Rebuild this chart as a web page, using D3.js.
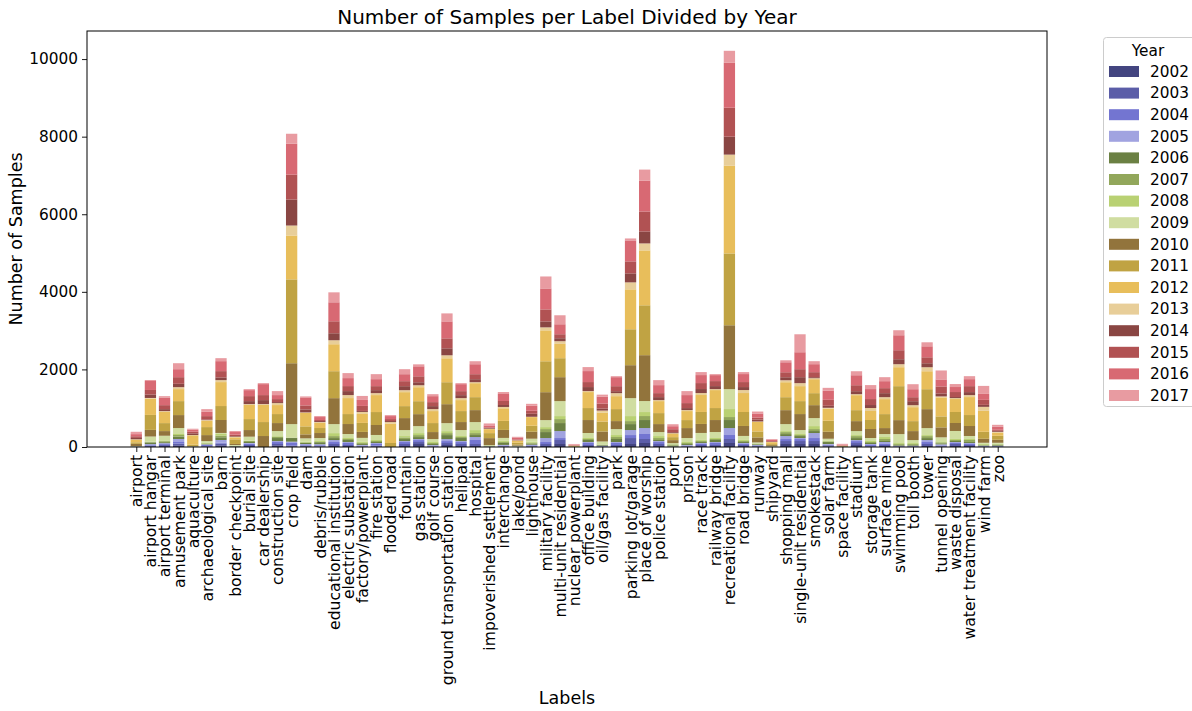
<!DOCTYPE html>
<html>
<head>
<meta charset="utf-8">
<script src="https://cdn.jsdelivr.net/npm/d3@7"></script>
<style>
  html, body { margin: 0; padding: 0; background: #fff; }
  svg { display: block; font-family: "DejaVu Sans", sans-serif; }
</style>
</head>
<body>
<svg id="chart" width="1192" height="711"></svg>
<script>
// Label categories (x axis)
const labels = ["airport","airport hangar","airport terminal","amusement park","aquaculture","archaeological site","barn","border checkpoint","burial site","car dealership","construction site","crop field","dam","debris/rubble","educational institution","electric substation","factory/powerplant","fire station","flooded road","fountain","gas station","golf course","ground transportation station","helipad","hospital","impoverished settlement","interchange","lake/pond","lighthouse","military facility","multi-unit residential","nuclear powerplant","office building","oil/gas facility","park","parking lot/garage","place of worship","police station","port","prison","race track","railway bridge","recreational facility","road bridge","runway","shipyard","shopping mall","single-unit residential","smokestack","solar farm","space facility","stadium","storage tank","surface mine","swimming pool","toll booth","tower","tunnel opening","waste disposal","water treatment facility","wind farm","zoo"];

// Years (stack order, bottom to top)
const years = ["2002","2003","2004","2005","2006","2007","2008","2009","2010","2011","2012","2013","2014","2015","2016","2017"];

// Samples per label, one array per year (same order as labels)
const y2002 = [3,20,25,43,2,8,43,3,26,0,43,17,17,10,26,26,10,17,0,26,77,8,51,26,26,3,10,2,8,26,77,0,26,8,26,77,103,26,3,8,26,26,103,26,8,2,77,77,77,17,0,51,8,26,8,8,26,8,26,26,8,8];
const y2003 = [3,15,25,43,2,17,43,3,26,0,34,17,17,10,51,26,10,17,0,51,51,8,51,51,51,3,10,2,17,51,103,0,26,8,26,154,103,51,3,8,26,26,103,26,17,2,77,77,77,26,0,51,17,26,8,8,51,17,51,26,8,8];
const y2004 = [3,15,25,43,2,26,26,3,34,0,51,69,17,26,51,51,17,43,0,51,51,17,51,51,103,3,17,2,17,51,51,0,51,8,51,77,129,51,3,17,26,51,103,26,17,2,51,51,77,17,0,51,26,26,8,8,51,17,26,26,8,8];
const y2005 = [3,25,25,77,2,17,69,3,17,0,26,34,26,26,51,26,17,26,0,26,26,17,51,26,77,3,17,2,17,103,180,0,26,8,26,129,154,26,3,17,26,26,180,26,8,2,77,26,129,17,0,26,26,51,8,8,51,26,26,26,8,8];
const y2006 = [5,40,25,60,2,8,69,17,26,0,77,94,26,51,51,51,26,26,0,51,51,26,103,77,51,5,51,3,26,154,206,0,51,17,77,154,206,26,26,26,26,51,206,26,17,2,51,51,51,51,0,51,26,26,17,17,51,26,26,26,8,17];
const y2007 = [2,15,25,43,2,17,43,3,26,0,34,8,17,5,51,26,26,26,0,43,51,26,51,26,51,3,26,3,26,77,103,0,26,8,51,77,103,51,26,26,26,26,77,26,17,2,51,26,51,17,0,51,26,51,26,26,51,26,26,51,17,17];
const y2008 = [2,10,20,26,2,17,43,3,8,0,17,8,17,26,77,26,26,26,0,34,51,26,51,26,77,3,26,3,26,51,77,0,26,8,51,129,103,51,10,26,26,26,206,26,8,2,26,26,77,17,0,26,26,51,26,26,26,26,26,26,26,17];
const y2009 = [5,130,120,154,2,43,26,17,103,0,129,343,86,77,232,103,103,129,0,154,180,77,206,154,206,26,77,17,77,180,386,0,129,77,154,463,283,103,26,103,180,154,514,103,26,8,180,103,206,51,0,103,77,77,232,77,180,103,206,77,26,26];
const y2010 = [55,171,120,334,10,154,334,26,171,283,206,1569,103,129,669,257,154,257,0,309,309,180,489,206,309,180,206,26,180,720,617,0,334,257,206,849,1183,206,77,257,232,309,1646,257,129,26,360,412,334,180,17,257,232,154,360,232,489,257,206,257,103,77];
const y2011 = [40,386,206,360,34,206,360,120,283,360,232,2161,206,129,695,257,232,334,103,309,334,232,566,283,334,129,232,51,154,797,489,17,309,257,309,926,1286,283,77,206,309,309,1852,360,154,26,334,334,309,283,0,283,232,360,875,257,514,283,283,283,180,103];
const y2012 = [70,420,292,309,240,163,617,51,369,446,232,1132,352,137,695,412,232,437,497,360,360,309,617,283,360,103,326,51,223,797,369,17,412,232,334,1029,1415,309,94,232,437,463,2264,489,249,51,386,386,360,309,17,386,232,386,489,360,463,489,334,463,540,77];
const y2013 = [8,17,17,51,8,17,51,17,17,17,51,257,8,17,103,77,51,51,43,51,51,51,77,51,26,10,34,8,8,77,69,0,26,51,77,180,180,26,8,26,51,26,283,77,8,5,51,77,26,26,0,26,77,51,77,51,103,26,26,51,103,26];
const y2014 = [35,86,51,86,43,17,69,17,77,103,26,669,77,26,180,103,26,77,26,103,77,77,180,77,77,17,51,8,77,154,77,5,103,51,51,232,309,77,26,51,103,77,463,77,51,8,77,154,26,51,0,77,77,103,129,103,103,77,26,77,51,26];
const y2015 = [43,120,103,171,43,86,163,34,129,129,77,643,103,26,309,129,129,103,51,129,154,103,257,103,129,17,103,17,77,309,103,5,129,129,129,309,514,103,77,129,154,129,746,129,51,17,129,206,129,154,5,154,154,129,232,103,154,180,129,154,129,26];
const y2016 = [55,231,189,206,51,111,257,69,154,283,103,797,206,77,489,206,154,180,77,180,257,154,437,180,257,51,180,51,129,540,257,17,283,180,232,540,797,206,77,206,206,154,1158,206,103,34,257,437,206,232,26,257,257,180,386,206,283,180,129,180,154,77];
const y2017 = [60,26,43,154,26,69,77,26,26,26,103,257,26,26,257,129,103,129,26,129,51,51,206,26,77,51,51,17,51,309,232,17,103,51,26,51,283,129,51,103,77,26,309,51,51,17,51,463,77,77,17,103,103,103,129,129,103,232,77,77,206,51];

const yearSeries = [y2002,y2003,y2004,y2005,y2006,y2007,y2008,y2009,y2010,y2011,y2012,y2013,y2014,y2015,y2016,y2017];

// tab20b palette, one colour per year
const palette = ["#393b79","#5254a3","#6b6ecf","#9c9ede","#637939","#8ca252","#b5cf6b","#cedb9c","#8c6d31","#bd9e39","#e7ba52","#e7cb94","#843c39","#ad494a","#d6616b","#e7969c"];

const yTicks = [0, 2000, 4000, 6000, 8000, 10000];

// Build a table: one row per label, one column per year
const rows = labels.map((lab, i) => {
  const r = { label: lab, idx: i };
  years.forEach((yr, k) => { r[yr] = yearSeries[k][i]; });
  return r;
});

const svg = d3.select("#chart");
const margin = { left: 87, right: 1047, top: 31, bottom: 447 };

const stack = d3.stack().keys(years);
const layers = stack(rows);
const maxTotal = d3.max(rows, r => d3.sum(years, y => r[y]));

const barW = 0.8;
const pad = 0.05 * (labels.length - 1 + barW);
const x = d3.scaleLinear()
  .domain([-barW / 2 - pad, labels.length - 1 + barW / 2 + pad])
  .range([margin.left, margin.right]);
const y = d3.scaleLinear()
  .domain([0, maxTotal * 1.05])
  .range([margin.bottom, margin.top]);
const color = d3.scaleOrdinal().domain(years).range(palette);
const barOpacity = 0.95;

// Stacked bars
const g = svg.append("g");
g.selectAll("g.layer")
  .data(layers)
  .join("g")
  .attr("class", "layer")
  .attr("fill", d => color(d.key))
  .attr("fill-opacity", barOpacity)
  .selectAll("rect")
  .data(d => d)
  .join("rect")
  .attr("x", d => x(d.data.idx - barW / 2))
  .attr("width", d => x(barW) - x(0))
  .attr("y", d => y(d[1]))
  .attr("height", d => y(d[0]) - y(d[1]));

// Axes
const xAxis = d3.axisBottom(x)
  .tickValues(d3.range(labels.length))
  .tickFormat(i => labels[i])
  .tickSize(5)
  .tickPadding(3);
const xg = svg.append("g")
  .attr("transform", `translate(0,${margin.bottom})`)
  .call(xAxis);
xg.select(".domain").remove();
xg.selectAll(".tick line").attr("stroke", "#000").attr("stroke-width", 0.9);
xg.selectAll(".tick text")
  .attr("font-family", "DejaVu Sans, sans-serif")
  .attr("font-size", 15.6)
  .attr("fill", "#000")
  .attr("text-anchor", "end")
  .attr("transform", "rotate(-90)")
  .attr("x", -8)
  .attr("y", 0)
  .attr("dy", "0.35em");

const yAxis = d3.axisLeft(y)
  .tickValues(yTicks)
  .tickFormat(d3.format("d"))
  .tickSize(5)
  .tickPadding(4);
const yg = svg.append("g")
  .attr("transform", `translate(${margin.left},0)`)
  .call(yAxis);
yg.select(".domain").remove();
yg.selectAll(".tick line").attr("stroke", "#000").attr("stroke-width", 0.9);
yg.selectAll(".tick text")
  .attr("font-family", "DejaVu Sans, sans-serif")
  .attr("font-size", 15.3)
  .attr("fill", "#000");

// Frame
svg.append("rect")
  .attr("x", margin.left)
  .attr("y", margin.top)
  .attr("width", margin.right - margin.left)
  .attr("height", margin.bottom - margin.top)
  .attr("fill", "none")
  .attr("stroke", "#000")
  .attr("stroke-width", 1);

// Titles
svg.append("text")
  .attr("x", (margin.left + margin.right) / 2)
  .attr("y", 24)
  .attr("text-anchor", "middle")
  .attr("font-size", 20)
  .attr("fill", "#000")
  .text("Number of Samples per Label Divided by Year");

svg.append("text")
  .attr("x", (margin.left + margin.right) / 2)
  .attr("y", 704)
  .attr("text-anchor", "middle")
  .attr("font-size", 17.5)
  .attr("fill", "#000")
  .text("Labels");

svg.append("text")
  .attr("transform", `translate(22,${(margin.top + margin.bottom) / 2}) rotate(-90)`)
  .attr("text-anchor", "middle")
  .attr("font-size", 17.5)
  .attr("fill", "#000")
  .text("Number of Samples");

// Legend
const lg = svg.append("g").attr("transform", "translate(1103,37)");
lg.append("rect")
  .attr("x", 0.5).attr("y", 0.5)
  .attr("width", 100).attr("height", 369)
  .attr("rx", 3)
  .attr("fill", "#fff")
  .attr("fill-opacity", 0.8)
  .attr("stroke", "#ccc");
lg.append("text")
  .attr("x", 45).attr("y", 19)
  .attr("text-anchor", "middle")
  .attr("font-size", 15.3)
  .attr("fill", "#000")
  .text("Year");
const item = lg.selectAll("g.item")
  .data(years)
  .join("g")
  .attr("class", "item")
  .attr("transform", (d, i) => `translate(6,${29 + i * 21.6})`);
item.append("rect")
  .attr("width", 30).attr("height", 11)
  .attr("fill", d => color(d))
  .attr("fill-opacity", barOpacity);
item.append("text")
  .attr("x", 41).attr("y", 5.5)
  .attr("dy", "0.35em")
  .attr("font-size", 15.3)
  .attr("fill", "#000")
  .text(d => d);
</script>
</body>
</html>
